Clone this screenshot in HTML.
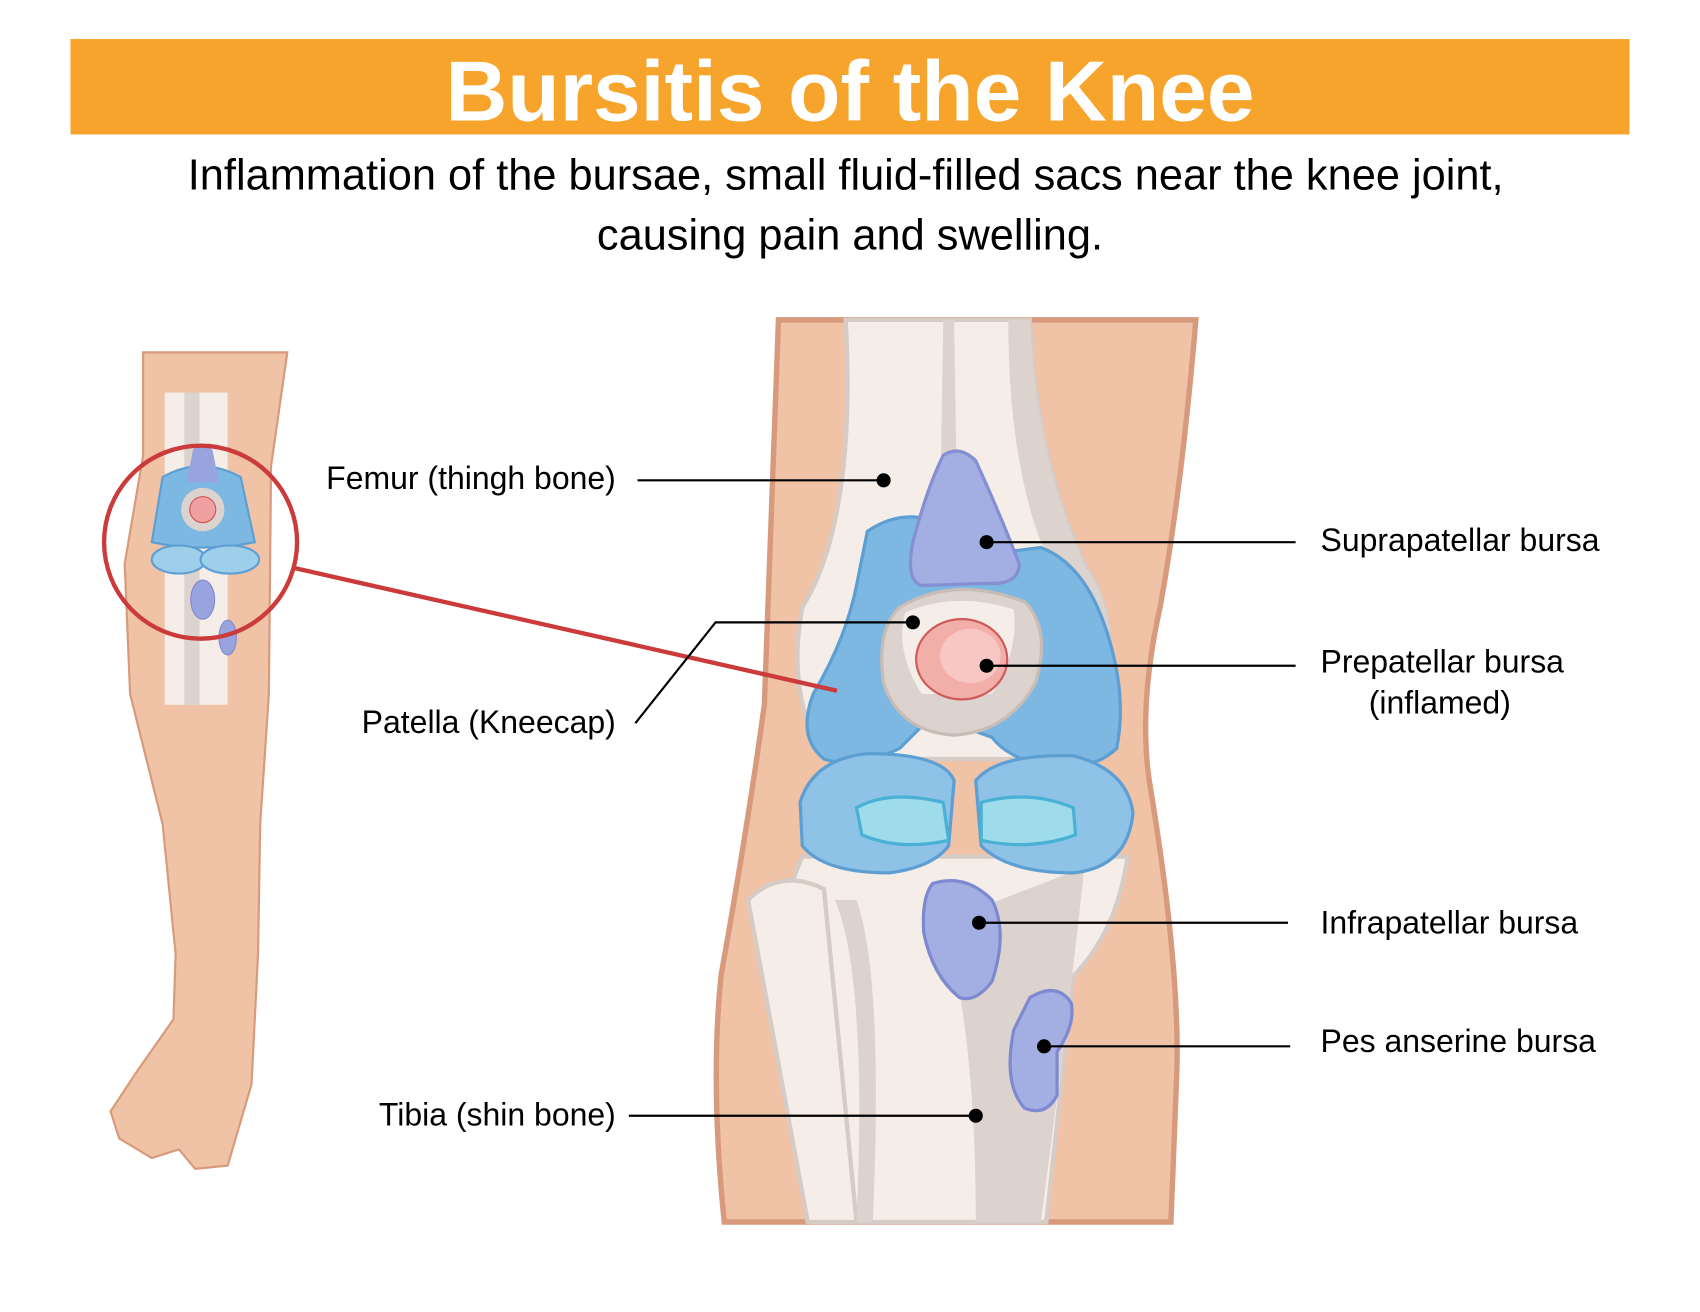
<!DOCTYPE html>
<html><head><style>html,body{margin:0;padding:0;background:#fff}svg{display:block}</style></head>
<body>
<svg width="1700" height="1312" viewBox="0 0 1568 1210" preserveAspectRatio="none" xmlns="http://www.w3.org/2000/svg" font-family="Liberation Sans, sans-serif">
<rect width="1568" height="1210" fill="#fff"/>
<rect x="65" y="36" width="1438" height="88" fill="#F7A42C"/>
<text x="784" y="111" text-anchor="middle" font-size="79" font-weight="bold" fill="#fff">Bursitis of the Knee</text>
<text x="780" y="175" text-anchor="middle" font-size="40" fill="#000">Inflammation of the bursae, small fluid-filled sacs near the knee joint,</text>
<text x="784" y="230" text-anchor="middle" font-size="40" fill="#000">causing pain and swelling.</text>

<!-- small leg -->
<path d="M132 325 L265 325 L250 430 L248 640 L240 760 L238 880 L232 1000 L210 1075 L180 1078 L165 1060 L140 1068 L110 1050 L102 1025 L125 990 L160 940 L162 880 L150 760 L120 640 L115 520 L132 420 Z" fill="#F0C2A6" stroke="#D89A7C" stroke-width="2"/>
<rect x="152" y="362" width="58" height="288" fill="#F5EDE8"/>
<rect x="170" y="362" width="14" height="288" fill="#DCD3CF"/>
<path d="M150 440 Q185 420 222 440 L235 500 Q185 510 140 500 Z" fill="#7CB8E2" stroke="#5E9FD3" stroke-width="2"/>
<circle cx="187" cy="470" r="20" fill="#DCD3CF"/><circle cx="187" cy="470" r="12" fill="#F0A0A0" stroke="#D05050"/>
<path d="M178 415 Q187 405 196 415 L202 445 L172 445 Z" fill="#99A3DD"/>
<ellipse cx="165" cy="516" rx="25" ry="13" fill="#9DCFEB" stroke="#5E9FD3" stroke-width="2"/>
<ellipse cx="212" cy="516" rx="27" ry="13" fill="#9DCFEB" stroke="#5E9FD3" stroke-width="2"/>
<ellipse cx="187" cy="553" rx="11" ry="18" fill="#99A3DD" stroke="#7F89CF"/>
<ellipse cx="210" cy="588" rx="8" ry="16" fill="#99A3DD" stroke="#7F89CF"/>
<circle cx="185" cy="500" r="89" fill="none" stroke="#CC3B3B" stroke-width="4"/>

<!-- big knee -->
<path d="M718 295 L1103 295 Q1090 450 1070 560 Q1050 650 1060 720 Q1090 900 1085 1000 Q1082 1080 1080 1127 L668 1127 Q655 1000 665 900 Q690 760 705 650 Q712 450 718 295 Z" fill="#F0C2A6" stroke="#D89A7C" stroke-width="5"/>
<path d="M780 295 L950 295 Q955 420 1000 520 Q1040 580 1010 640 L990 700 L760 700 Q725 640 740 560 Q790 480 780 295 Z" fill="#F5EDE8" stroke="#D7CBC6" stroke-width="4"/>
<path d="M870 295 L880 295 L882 420 L868 420 Z" fill="#DCD3CF"/>
<path d="M930 295 L950 295 Q955 420 1000 520 Q1040 580 1010 640 L985 640 Q1000 560 960 500 Q930 420 930 295 Z" fill="#DCD3CF"/>
<path d="M740 790 L1040 790 Q1030 860 990 900 L965 1127 L770 1127 L760 950 Q700 880 740 790 Z" fill="#F5EDE8" stroke="#D7CBC6" stroke-width="4"/>
<path d="M690 830 Q720 800 760 820 L790 1127 L745 1127 Z" fill="#F5EDE8" stroke="#D7CBC6" stroke-width="4"/>
<path d="M870 850 L1000 800 Q990 900 960 1127 L900 1127 Q900 950 870 850 Z" fill="#DCD3CF"/>
<path d="M770 830 Q800 900 790 1127 L805 1127 Q815 900 790 830 Z" fill="#DCD3CF"/>
<path d="M800 490 Q830 470 860 480 L920 510 L960 505 Q1000 520 1020 580 Q1040 640 1030 690 Q1010 710 970 708 Q930 700 915 680 L860 660 L830 690 Q790 710 760 700 Q735 680 750 640 Q780 590 790 540 Z" fill="#7CB8E2" stroke="#5E9FD3" stroke-width="3"/>
<path d="M738 740 Q750 700 800 695 Q870 695 880 720 L875 780 Q860 800 820 805 Q760 805 740 780 Z" fill="#8EC3E7" stroke="#5E9FD3" stroke-width="3"/>
<path d="M900 720 Q920 695 990 697 Q1040 710 1045 750 Q1040 800 990 805 Q930 805 905 780 Z" fill="#8EC3E7" stroke="#5E9FD3" stroke-width="3"/>
<path d="M790 745 Q820 728 870 740 L875 775 Q830 785 795 770 Z" fill="#9EDCEB" stroke="#49B1D4" stroke-width="3"/>
<path d="M905 740 Q950 728 990 745 L992 770 Q950 785 905 775 Z" fill="#9EDCEB" stroke="#49B1D4" stroke-width="3"/>
<path d="M830 560 Q880 530 945 555 Q970 580 955 630 Q930 675 880 678 Q830 675 815 630 Q808 580 830 560 Z" fill="#DCD3CF" stroke="#C9BCB6" stroke-width="3"/>
<path d="M835 565 Q880 545 935 562 Q940 600 915 640 L850 640 Q825 600 835 565 Z" fill="#F5EDE8"/>
<ellipse cx="887" cy="608" rx="42" ry="37" fill="#F2AEA9" stroke="#CF5A5A" stroke-width="2"/>
<ellipse cx="895" cy="605" rx="28" ry="25" fill="#F8C6C3"/>
<path d="M870 420 Q885 410 900 425 Q925 480 940 520 Q940 540 910 538 L850 540 Q835 535 842 500 Q855 450 870 420 Z" fill="#A3AEE2" stroke="#8590D3" stroke-width="3"/>
<path d="M860 815 Q890 805 915 830 Q930 860 915 905 Q900 925 885 920 Q860 900 852 860 Q850 828 860 815 Z" fill="#A3AEE2" stroke="#7F89CF" stroke-width="3"/>
<path d="M950 920 Q975 905 988 925 Q992 945 975 970 L975 1010 Q965 1030 945 1022 Q925 1000 935 950 Z" fill="#A3AEE2" stroke="#7F89CF" stroke-width="3"/>

<line x1="272" y1="524" x2="772" y2="637" stroke="#CC3B3B" stroke-width="4"/>

<g stroke="#000" stroke-width="2" fill="none">
<line x1="588" y1="443" x2="815" y2="443"/>
<line x1="910" y1="500" x2="1195" y2="500"/>
<line x1="910" y1="614" x2="1195" y2="614"/>
<polyline points="586,667 660,574 842,574"/>
<line x1="903" y1="851" x2="1188" y2="851"/>
<line x1="963" y1="965" x2="1190" y2="965"/>
<line x1="580" y1="1029" x2="900" y2="1029"/>
</g>
<g fill="#000">
<circle cx="815" cy="443" r="6.5"/><circle cx="910" cy="500" r="6.5"/><circle cx="910" cy="614" r="6.5"/>
<circle cx="842" cy="574" r="6.5"/><circle cx="903" cy="851" r="6.5"/><circle cx="963" cy="965" r="6.5"/><circle cx="900" cy="1029" r="6.5"/>
</g>
<g font-size="29.5" fill="#000">
<text x="568" y="451" text-anchor="end">Femur (thingh bone)</text>
<text x="568" y="676" text-anchor="end">Patella (Kneecap)</text>
<text x="568" y="1038" text-anchor="end">Tibia (shin bone)</text>
<text x="1218" y="508">Suprapatellar bursa</text>
<text x="1218" y="620">Prepatellar bursa</text>
<text x="1328" y="658" text-anchor="middle">(inflamed)</text>
<text x="1218" y="861">Infrapatellar bursa</text>
<text x="1218" y="970">Pes anserine bursa</text>
</g>
</svg>
</body></html>
